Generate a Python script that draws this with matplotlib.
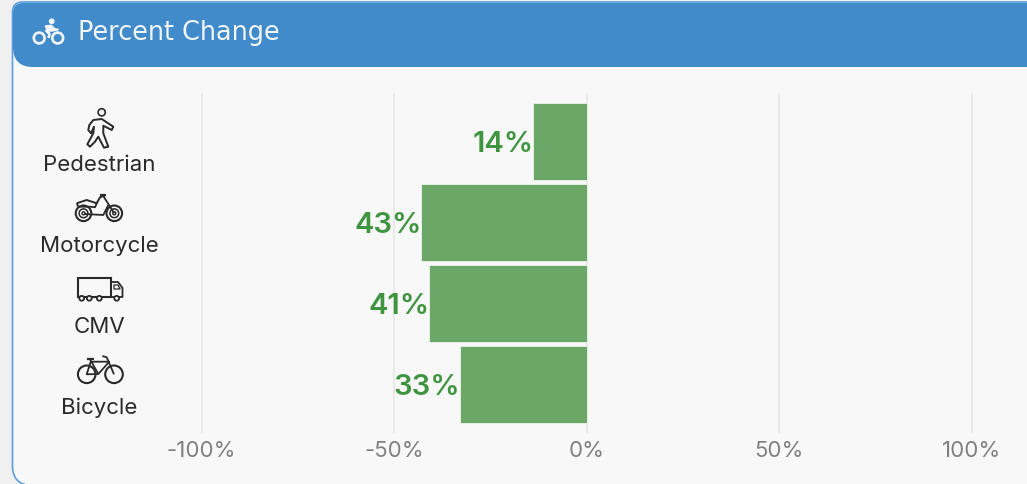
import matplotlib
matplotlib.use("Agg")
import matplotlib.pyplot as plt
from matplotlib.patches import Circle, PathPatch, Polygon, Rectangle
from matplotlib.path import Path

categories = ["Pedestrian", "Motorcycle", "CMV", "Bicycle"]
pct_change = [-14, -43, -41, -33]
x_ticks = [-100, -50, 0, 50, 100]
x_tick_labels = ["-100%", "-50%", "0%", "50%", "100%"]
title = "Percent Change"

W, H = 1027, 484
INK = "#2a2a2a"
BLUE = "#428bca"
WHITE = "#f2f6fb"

plt.rcParams["font.family"] = ["Inter", "Liberation Sans", "DejaVu Sans"]


def rounded_path(x0, y0, x1, y1, r_tl, r_bl):
    # box with only the two left corners rounded, y grows downward
    verts = [(x0 + r_tl, y0), (x1, y0), (x1, y1), (x0 + r_bl, y1),
             (x0, y1), (x0, y1 - r_bl), (x0, y0 + r_tl), (x0, y0), (x0 + r_tl, y0)]
    codes = [Path.MOVETO, Path.LINETO, Path.LINETO, Path.LINETO,
             Path.CURVE3, Path.CURVE3, Path.LINETO, Path.CURVE3, Path.CURVE3]
    return Path(verts, codes)


def ring(bg, x, y, r, color=INK, lw=1.1, fill="none"):
    bg.add_patch(Circle((x, y), r, fc=fill, ec=color, lw=lw))


def poly(bg, pts, color=INK, lw=1.1, closed=False, fill="none"):
    bg.add_patch(Polygon(pts, closed=closed, fc=fill, ec=color, lw=lw, joinstyle="round"))


def walker_icon(bg):
    ring(bg, 101.7, 112.3, 3.6, lw=1.2)
    pts = [(93.3, 120), (101.7, 119), (113.3, 126.7), (111.7, 130), (103.3, 125.7),
           (103.3, 133.3), (108.3, 146.7), (104, 147.7), (98.3, 136.7), (95, 141.7),
           (90, 146.7), (87.3, 144.3), (93.3, 133.3), (94, 126.7), (91, 133.3),
           (88.3, 130), (89.3, 125)]
    poly(bg, pts, closed=True, lw=1.4)


def motorcycle_icon(bg):
    for x in (83.5, 114.3):
        ring(bg, x, 213.3, 7.8, lw=1.5)
        ring(bg, x, 213.3, 4.4, lw=1.1)
        ring(bg, x, 213.3, 1.5, lw=1.0)
    poly(bg, [(76.7, 203.3), (86.7, 200), (96.7, 203.3), (100, 197.3), (105, 195.5)], lw=1.4)
    poly(bg, [(76.7, 203.3), (78.3, 206.7), (90, 206.7), (95, 207.3), (96.7, 203.3)], lw=1.3)
    poly(bg, [(84.3, 214), (103.3, 215), (108.3, 205)], lw=1.3)
    poly(bg, [(103.3, 196), (114.3, 213.3)], lw=1.3)
    poly(bg, [(100, 194.5), (106, 194.5)], lw=1.6)


def truck_icon(bg):
    bg.add_patch(Rectangle((77.5, 278), 33.5, 18.5, fc="none", ec=INK, lw=1.5))
    poly(bg, [(111, 282), (118, 282), (122.5, 288), (122.5, 297), (111, 297)], closed=True, lw=1.3)
    poly(bg, [(114, 285), (118, 285), (120, 289), (114, 289)], closed=True, lw=0.9)
    for x in (81.7, 89.3, 99.3, 116.7):
        ring(bg, x, 298.3, 2.4, lw=1.3, fill="#f8f8f8")


def bicycle_icon(bg):
    ring(bg, 86.7, 374.3, 8.8, lw=1.5)
    ring(bg, 114, 374.3, 8.8, lw=1.5)
    poly(bg, [(86.7, 374.3), (90.7, 361.7), (109.3, 361.7), (98.3, 374)], closed=True, lw=1.3)
    poly(bg, [(90, 359.3), (98.3, 374)], lw=1.3)
    poly(bg, [(86.7, 359), (94, 359)], lw=1.6)
    poly(bg, [(114, 374.3), (106.7, 357.3), (102.3, 356)], lw=1.3)


def header_icon(bg):
    ring(bg, 39.2, 38, 5.4, color=WHITE, lw=1.9)
    ring(bg, 57.7, 38, 5.4, color=WHITE, lw=1.9)
    bg.add_patch(Circle((51.7, 21.3), 2.9, fc=WHITE, ec="none"))
    poly(bg, [(45.5, 26), (51, 25.5), (55, 29), (58, 29.5), (52, 31), (49, 30.5), (48.5, 33)],
         color=WHITE, closed=True, lw=1.2, fill=WHITE)
    poly(bg, [(45.5, 30), (49.5, 34), (48.5, 38)], color=WHITE, lw=1.9)


fig = plt.figure(figsize=(W / 100, H / 100), dpi=100, facecolor="#f0f0f0")

# page furniture drawn in pixel coordinates
bg = fig.add_axes([0, 0, 1, 1])
bg.set_xlim(0, W)
bg.set_ylim(H, 0)
bg.axis("off")
bg.add_patch(PathPatch(rounded_path(12.5, 2, W + 20, H + 1.5, 10, 20),
                       fc="#f8f8f8", ec="#5a9fdc", lw=1.2))
bg.add_patch(PathPatch(rounded_path(13, 3, W + 20, 67, 10, 20), fc=BLUE, ec="none"))
bg.text(78, 33.5, title, color=WHITE, fontsize=18.4, family="DejaVu Sans", va="center", ha="left")
header_icon(bg)
walker_icon(bg)
motorcycle_icon(bg)
truck_icon(bg)
bicycle_icon(bg)

# chart area: -100% at x=201.5, 100% at x=972, plot spans y=94..432
ax = fig.add_axes([201.5 / W, 1 - 432 / H, (972 - 201.5) / W, (432 - 94) / H])
ax.patch.set_alpha(0)
ax.set_xlim(-100, 100)
ax.set_ylim(3.586, -0.586)
positions = list(range(len(categories)))
ax.barh(positions, pct_change, height=0.96, color="#6ba868", edgecolor="#eef4ec", lw=0.6, zorder=3)

for x in x_ticks:
    ax.axvline(x, color="#e8e8e8", lw=1.3, zorder=1, clip_on=False)
ax.set_xticks(x_ticks)
ax.set_xticklabels(x_tick_labels, fontsize=16, color="#808080")
ax.tick_params(axis="x", length=0, pad=6.5)
ax.set_yticks([])
for side in ax.spines.values():
    side.set_visible(False)

for i, (name, val) in enumerate(zip(categories, pct_change)):
    ax.annotate(f"{abs(val)}%", (val, i), xytext=(0.5, -2.5), textcoords="offset points",
                ha="right", va="center", fontsize=21, fontweight="semibold", color="#3f9440", zorder=4)
    ax.annotate(name, (-100, i), xytext=(-73.5, -17), textcoords="offset points",
                ha="center", va="center", fontsize=16, color=INK, annotation_clip=False)

fig.savefig("out.png", dpi=100, facecolor=fig.get_facecolor())
